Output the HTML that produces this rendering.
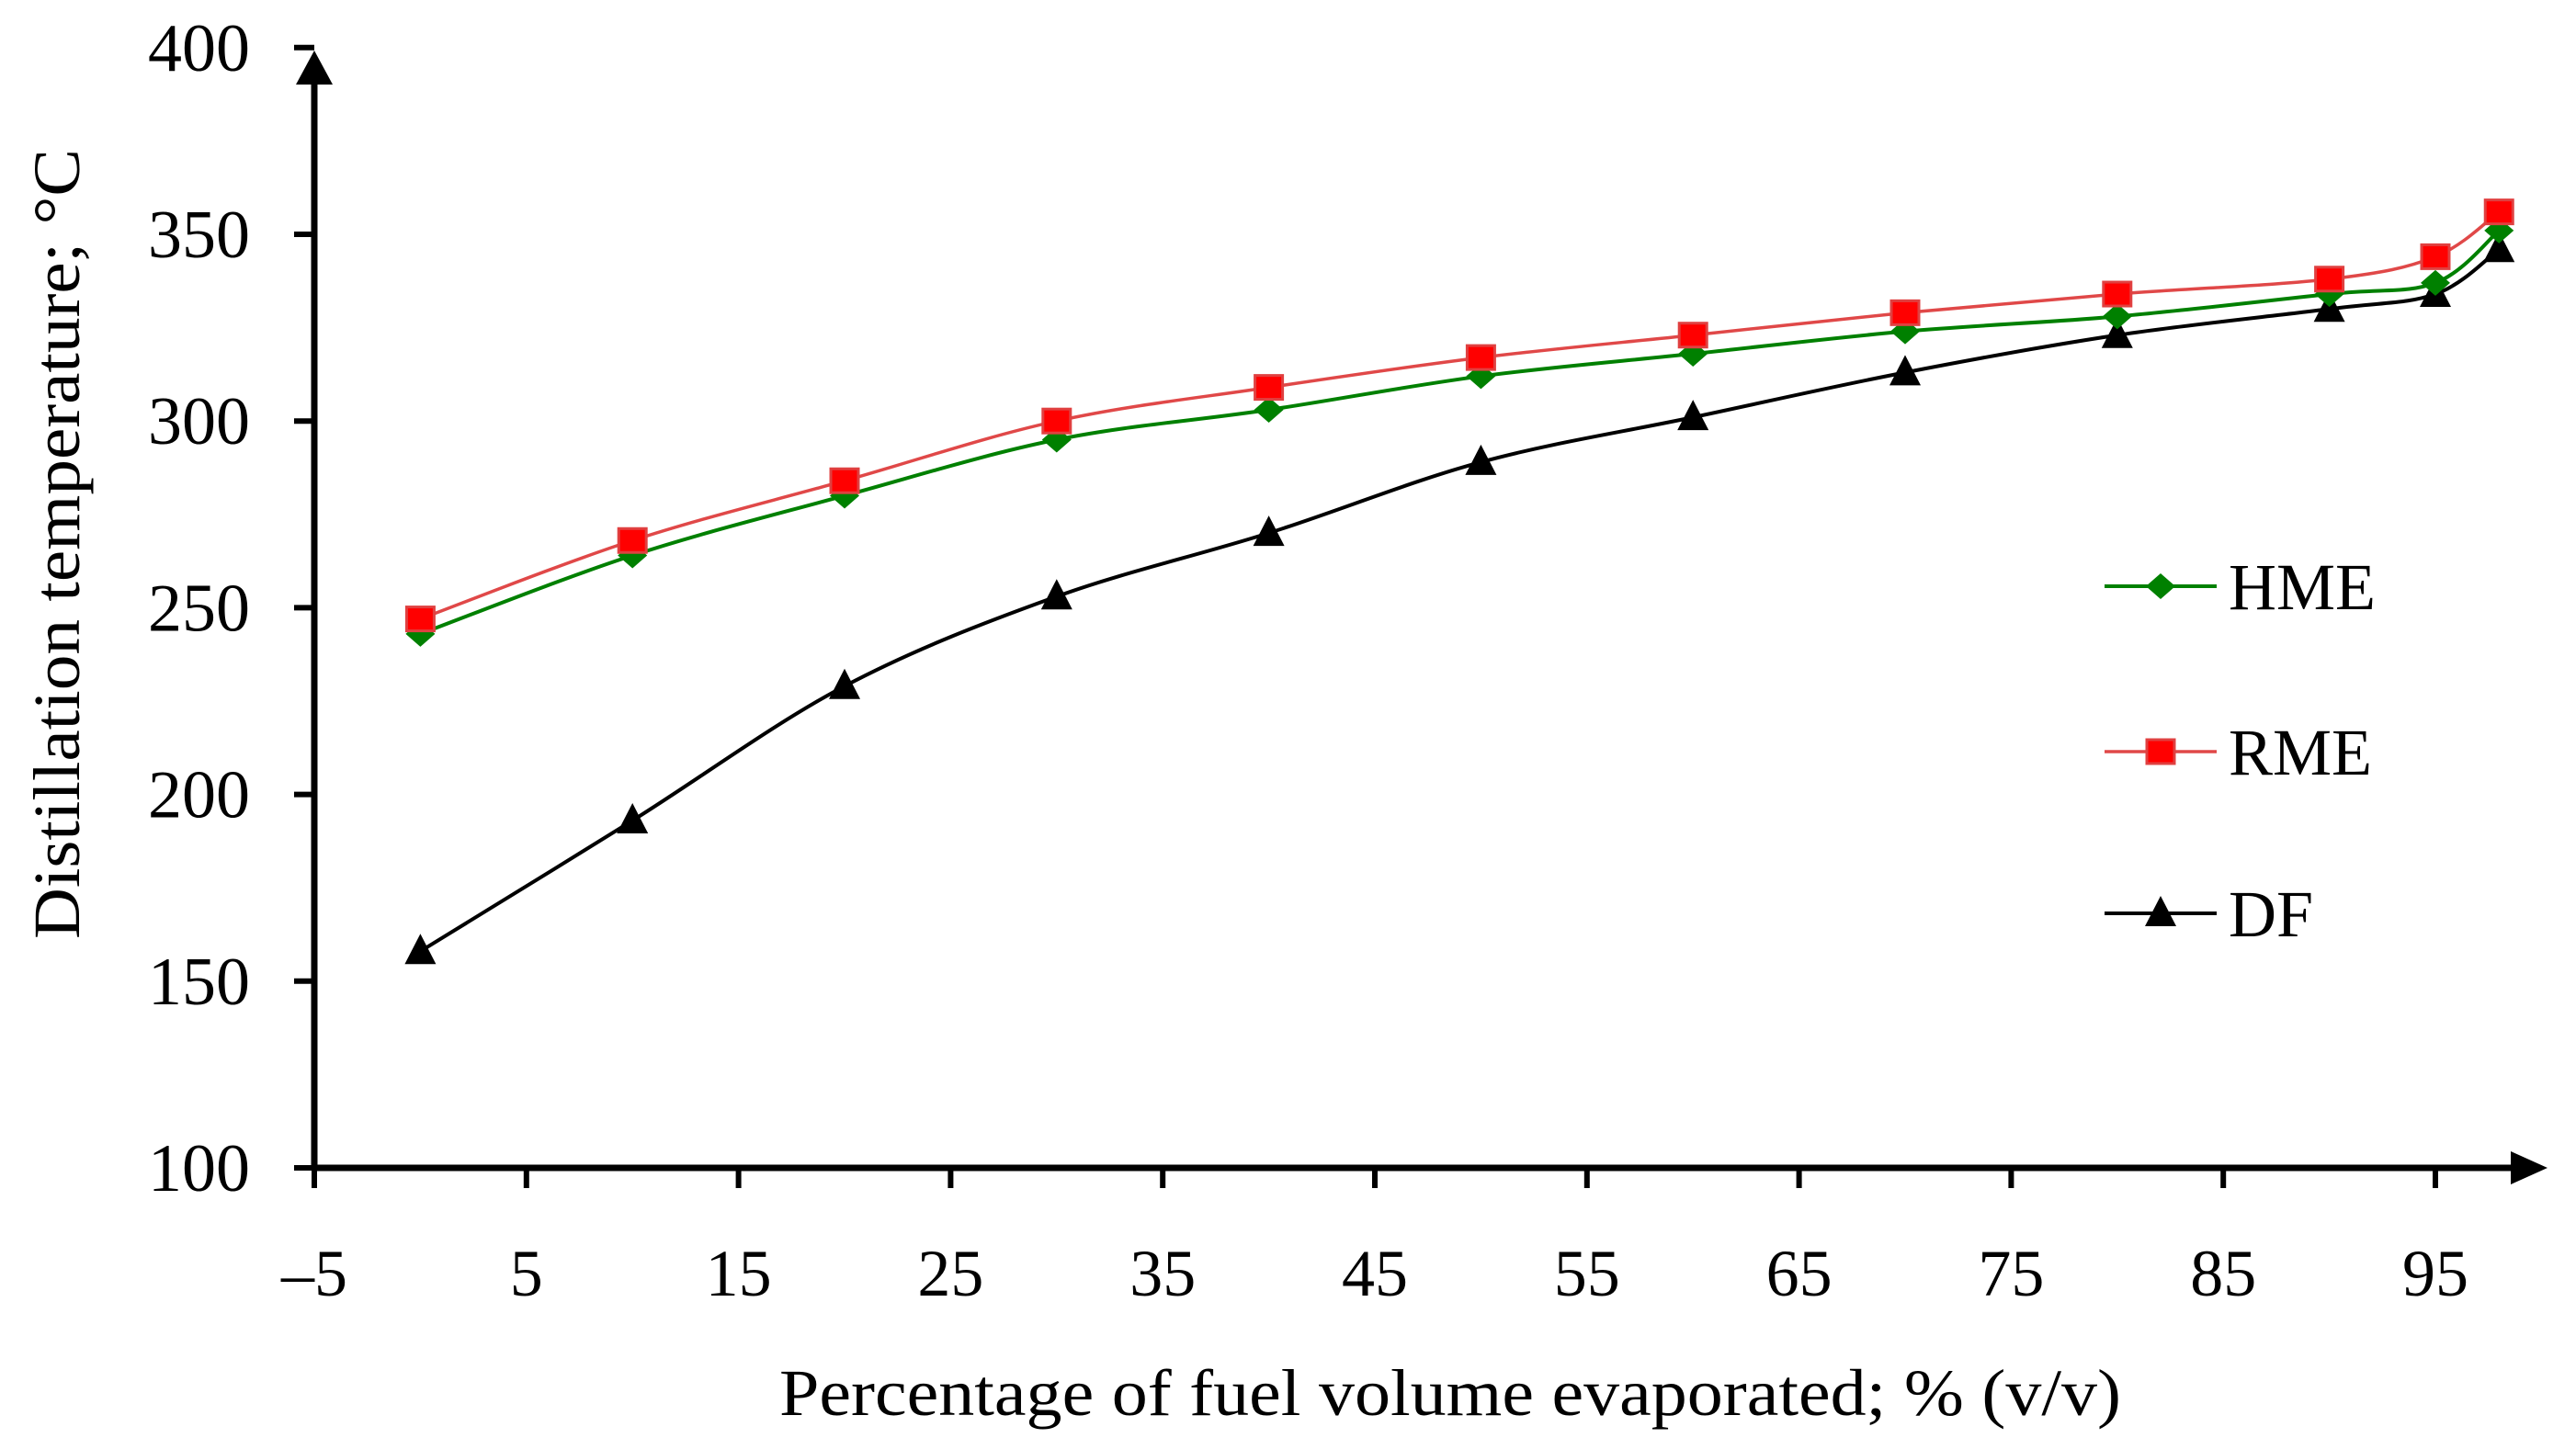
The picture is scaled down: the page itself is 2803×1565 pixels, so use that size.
<!DOCTYPE html>
<html><head><meta charset="utf-8"><style>
html,body{margin:0;padding:0;background:#fff;}
svg{display:block;font-family:"Liberation Serif",serif;}
</style></head><body>
<svg id="chart" width="2803" height="1565" viewBox="0 0 2803 1565" xmlns="http://www.w3.org/2000/svg">
<g id="axes"></g>
<g id="series"></g>
<text x="1578" y="1540" font-size="72" text-anchor="middle" textLength="1460" lengthAdjust="spacingAndGlyphs">Percentage of fuel volume evaporated; % (v/v)</text>
<text transform="translate(86,592) rotate(-90)" font-size="72" text-anchor="middle" textLength="860" lengthAdjust="spacingAndGlyphs">Distillation temperature; °C</text>
<g id="legend"></g>
</svg>
<script>
const xValues = [0,10,20,30,40,50,60,70,80,90,95,98];
const hmeValues = [243,264,280,295,303,312,318,324,328,334,337,351];
const rmeValues = [247,268,284,300,309,317,323,329,334,338,344,356];
const dfValues = [158,193,229,253,270,289,301,313,323,330,334,346];
const xTicks = [-5,5,15,25,35,45,55,65,75,85,95];
const yTicks = [100,150,200,250,300,350,400];

const NS="http://www.w3.org/2000/svg";
const X0=342, XS=23.08, Y0=1271, YS=203.2/50;
function sx(v){return X0+(v+5)*XS;}
function sy(v){return Y0-(v-100)*YS;}
function mk(tag,attrs,parent){const e=document.createElementNS(NS,tag);for(const k in attrs)e.setAttribute(k,attrs[k]);parent.appendChild(e);return e;}

const axes=document.getElementById('axes');
let a=mk('line',{x1:X0,y1:Y0,x2:2740,y2:Y0,stroke:'#000','stroke-width':7},axes);


a=mk('line',{x1:X0,y1:Y0+3,x2:X0,y2:85,stroke:'#000','stroke-width':7},axes);


a=mk('polygon',{points:`${X0-20},92 ${X0+20},92 ${X0},55`,fill:'#000'},axes);


a=mk('polygon',{points:`2732,${Y0-18} 2732,${Y0+18} 2772,${Y0}`,fill:'#000'},axes);


xTicks.forEach(t=>{
  const x=sx(t);
  mk('line',{x1:x,y1:Y0,x2:x,y2:Y0+22,stroke:'#000','stroke-width':6},axes);
  const tx=mk('text',{x:x,y:1410,'font-size':72,'text-anchor':'middle'},axes);
  tx.textContent=(t<0?'\u2013':'')+Math.abs(t);
  
  
});
yTicks.forEach(t=>{
  const y=sy(t);
  mk('line',{x1:X0-22,y1:y,x2:X0,y2:y,stroke:'#000','stroke-width':6},axes);
  const tx=mk('text',{x:272,y:y+25,'font-size':74,'text-anchor':'end'},axes);
  tx.textContent=t;
  
  
});

function smoothPath(xs,ys){
  const p=xs.map((x,i)=>[sx(x),sy(ys[i])]);
  let d=`M${p[0][0]},${p[0][1]}`;
  for(let i=0;i<p.length-1;i++){
    const p0=p[i-1]||p[i],p1=p[i],p2=p[i+1],p3=p[i+2]||p2;
    const c1=[p1[0]+(p2[0]-p0[0])/6,p1[1]+(p2[1]-p0[1])/6];
    const c2=[p2[0]-(p3[0]-p1[0])/6,p2[1]-(p3[1]-p1[1])/6];
    d+=` C${c1[0]},${c1[1]} ${c2[0]},${c2[1]} ${p2[0]},${p2[1]}`;
  }
  return d;
}
function marker(type,x,y,parent){
  if(type==='diamond') return mk('polygon',{points:`${x-16},${y} ${x},${y-14} ${x+16},${y} ${x},${y+14}`,fill:'#008000'},parent);
  if(type==='square') return mk('rect',{x:x-15,y:y-13,width:30,height:26,fill:'#ff0000',stroke:'#e04040','stroke-width':3},parent);
  return mk('polygon',{points:`${x-17},${y+14} ${x+17},${y+14} ${x},${y-19}`,fill:'#000'},parent);
}
const seriesDefs=[
  {name:'df',vals:dfValues,color:'#000',w:4,m:'triangle'},
  {name:'hme',vals:hmeValues,color:'#008000',w:4,m:'diamond'},
  {name:'rme',vals:rmeValues,color:'#e04848',w:3.5,m:'square'}
];
const sg=document.getElementById('series');
seriesDefs.forEach(s=>{
  const g=mk('g',{},sg);
  
  
  const pth=mk('path',{d:smoothPath(xValues,s.vals),fill:'none',stroke:s.color,'stroke-width':s.w},g);
  
  
  s.vals.forEach((v,i)=>{
    const m=marker(s.m,sx(xValues[i]),sy(v),g);
    
    
  });
});

const lg=document.getElementById('legend');
[['HME','#008000','diamond',638,4],['RME','#e04848','square',818,3.5],['DF','#000','triangle',994,4]].forEach(r=>{
  const g=mk('g',{},lg);
  
  
  mk('line',{x1:2290,y1:r[3],x2:2412,y2:r[3],stroke:r[1],'stroke-width':r[4]},g);
  marker(r[2],2351,r[3],g);
  const t=mk('text',{x:2425,y:r[3]+25,'font-size':72},g);
  t.textContent=r[0];
});
</script>
</body></html>
